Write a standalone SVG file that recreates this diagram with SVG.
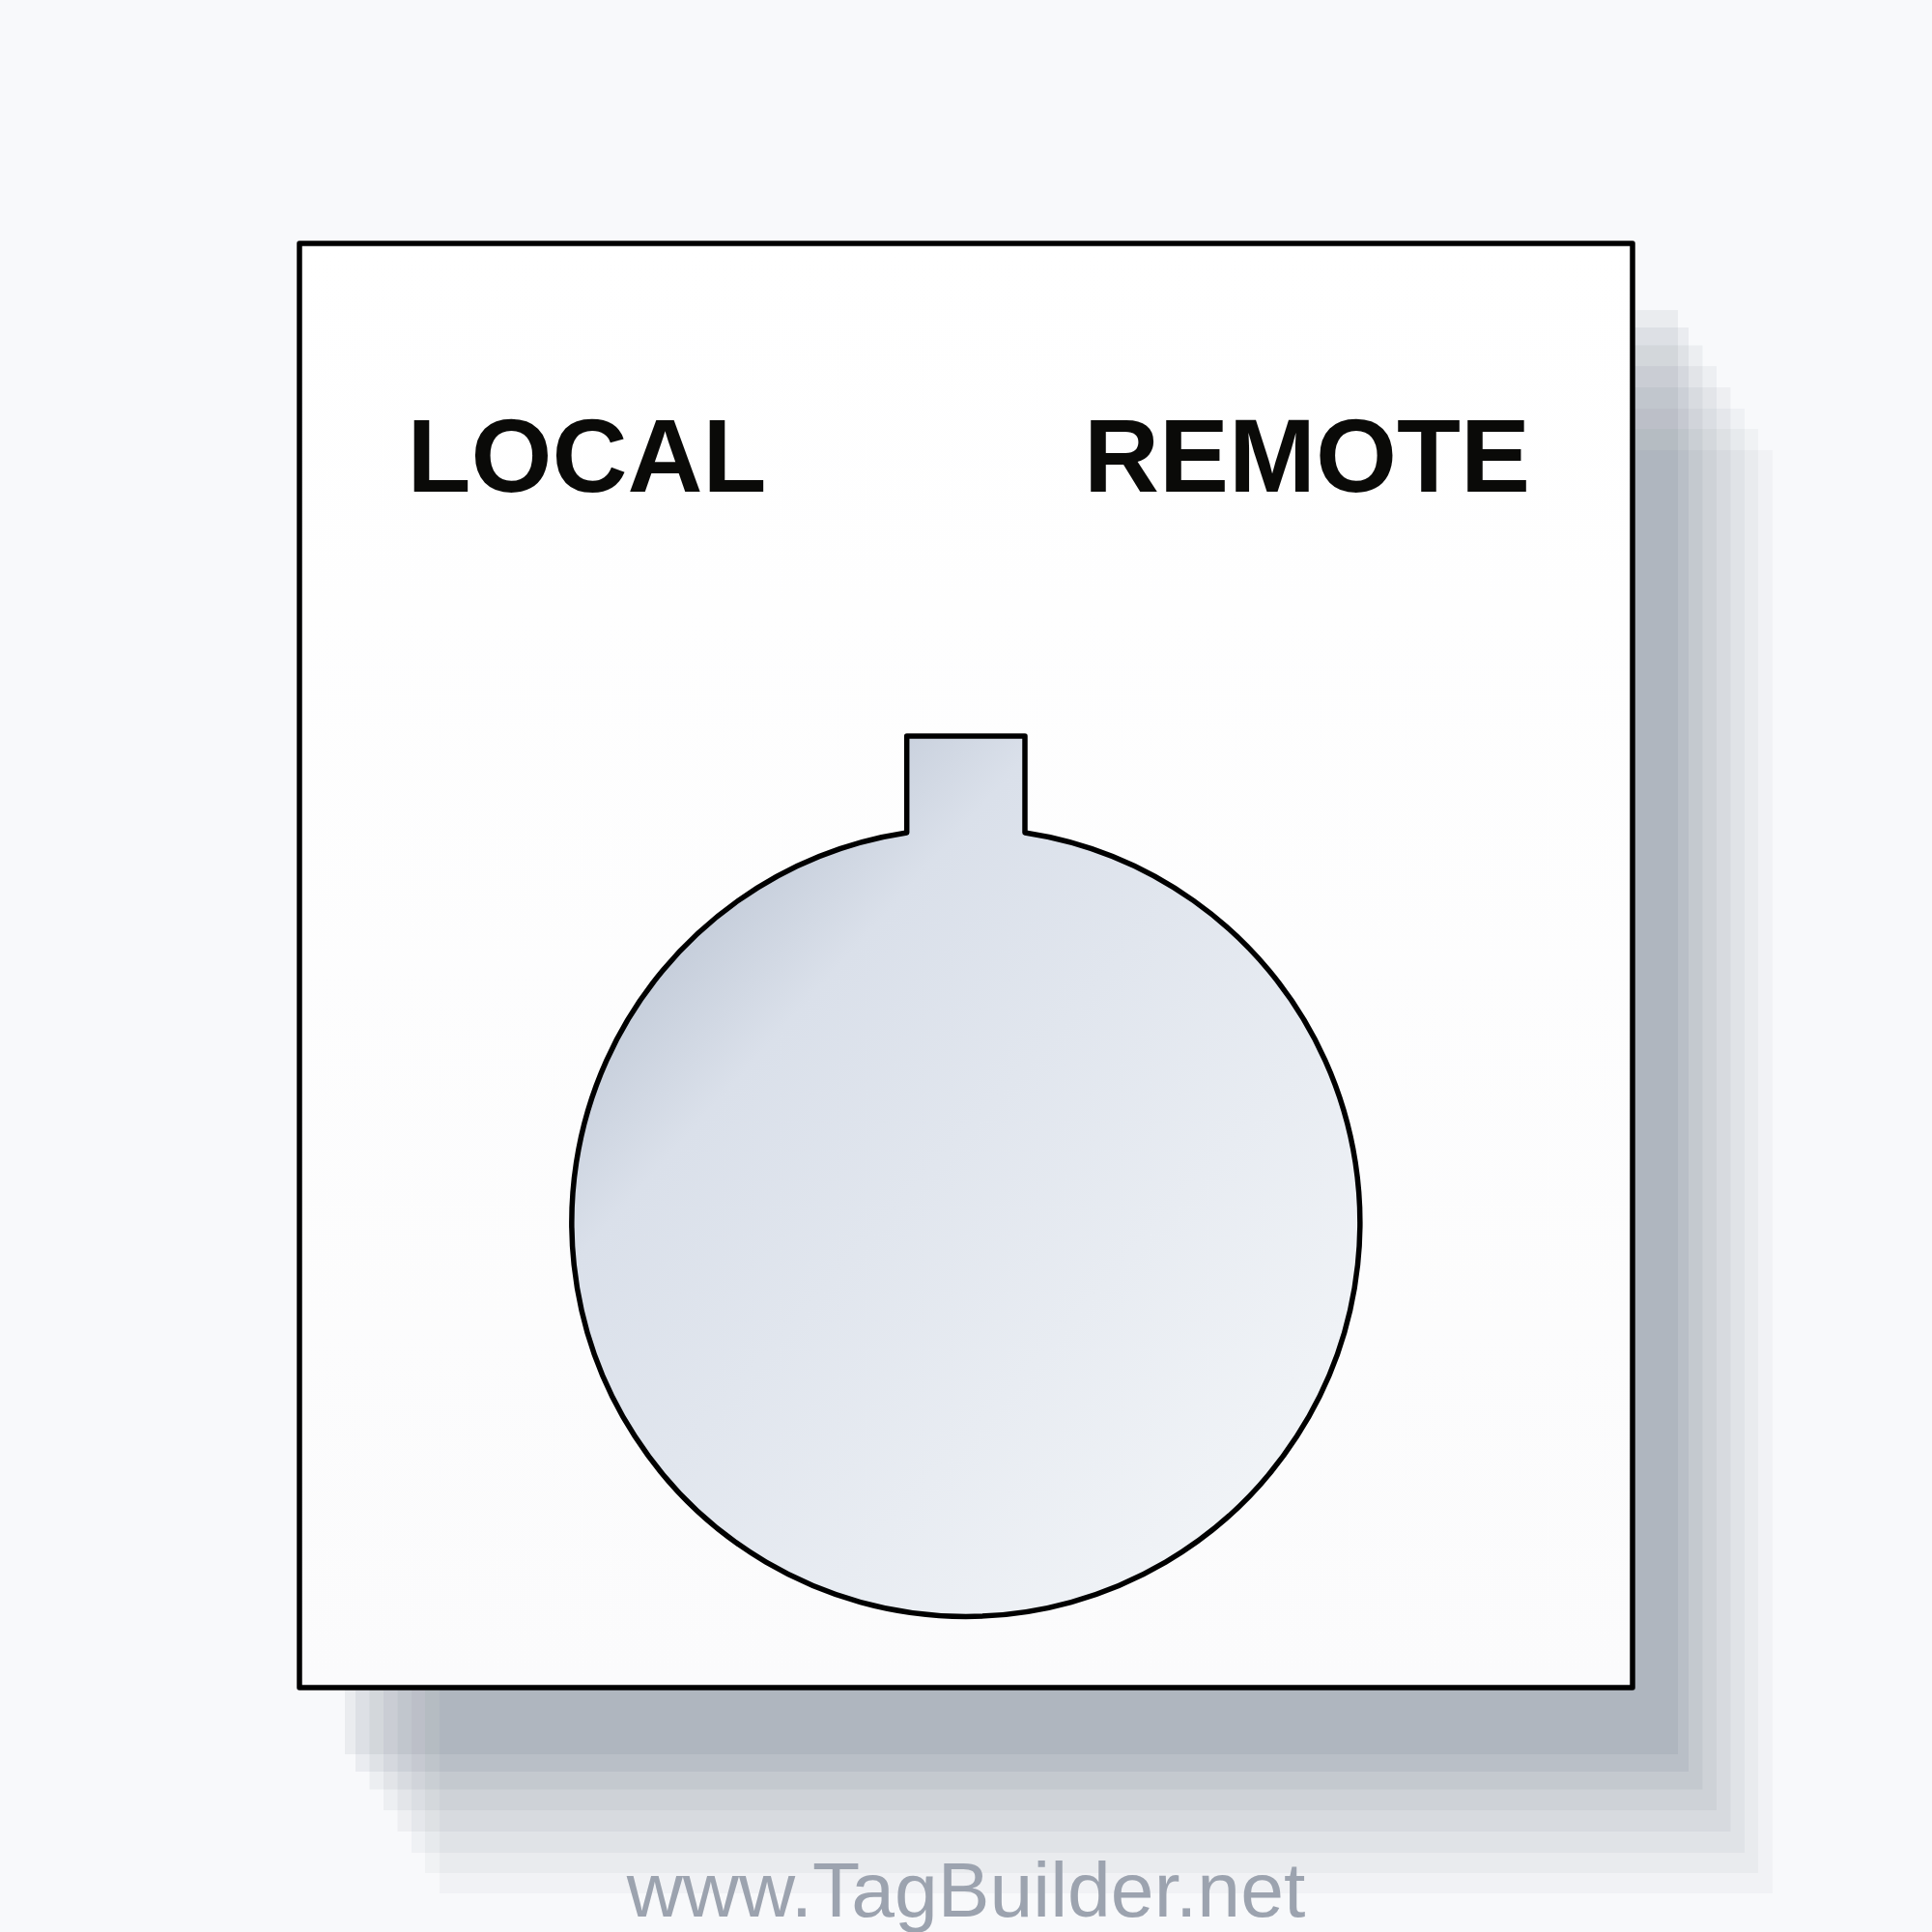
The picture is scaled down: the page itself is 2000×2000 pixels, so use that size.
<svg xmlns="http://www.w3.org/2000/svg" width="2000" height="2000" viewBox="0 0 2000 2000">
  <style>
    .shadow { fill: #334155; }
    .label { font-family: "Liberation Sans", Arial, sans-serif; font-weight: bold; font-size: 108px; fill: #0a0a08; }
    .watermark { font-family: "Liberation Sans", Arial, sans-serif; font-size: 80.5px; fill: #9ca3af; text-anchor: middle; }
  </style>
  <defs>
    <linearGradient id="plateGrad" x1="0" y1="0" x2="0" y2="1">
      <stop offset="0" stop-color="#ffffff"/>
      <stop offset="1" stop-color="#fbfbfc"/>
    </linearGradient>
    <linearGradient id="holeGrad" x1="0" y1="0" x2="1" y2="1">
      <stop offset="0" stop-color="#a3afc1"/>
      <stop offset="0.3" stop-color="#dae0ea"/>
      <stop offset="1" stop-color="#f6f8fa"/>
    </linearGradient>
  </defs>
  <rect x="0" y="0" width="2000" height="2000" fill="#f8f9fb"/>
  <g id="shadow">
    <rect class="shadow" x="455" y="466" width="1380" height="1494" opacity="0.035"/>
    <rect class="shadow" x="440" y="444" width="1380" height="1495" opacity="0.04"/>
    <rect class="shadow" x="426" y="423" width="1380" height="1495" opacity="0.045"/>
    <rect class="shadow" x="411.5" y="401" width="1380" height="1495" opacity="0.05"/>
    <rect class="shadow" x="397" y="379" width="1380" height="1495" opacity="0.055"/>
    <rect class="shadow" x="382.5" y="357.5" width="1380" height="1495" opacity="0.06"/>
    <rect class="shadow" x="368" y="339" width="1380" height="1495" opacity="0.065"/>
    <rect class="shadow" x="357" y="321" width="1380" height="1495" opacity="0.07"/>
  </g>
  <g id="plate">
    <rect x="310" y="252" width="1380" height="1495" fill="url(#plateGrad)" stroke="#000" stroke-width="5.5" stroke-linejoin="round"/>
  </g>
  <g id="label-local">
    <text class="label" x="421.5" y="509">LOCAL</text>
  </g>
  <g id="label-remote">
    <text class="label" x="1122" y="509">REMOTE</text>
  </g>
  <g id="switch-hole">
    <path d="M 938.7 862 L 938.7 762 L 1061 762 L 1061 862 A 408 408 0 1 1 938.7 862 Z" fill="url(#holeGrad)" stroke="#000" stroke-width="5.5" stroke-linejoin="round"/>
  </g>
  <g id="connectors"/>
  <text class="watermark" x="1000" y="1984">www.TagBuilder.net</text>
</svg>
